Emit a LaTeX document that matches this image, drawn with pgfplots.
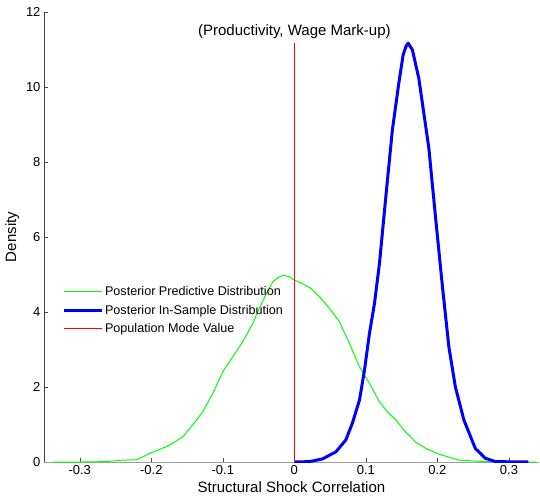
\documentclass[border=0pt]{standalone}
\usepackage{fontspec}
\setmainfont{Liberation Sans}
\usepackage{pgfplots}
\pgfplotsset{compat=1.18}
\usetikzlibrary{calc}
\definecolor{predgreen}{RGB}{0,255,0}
\definecolor{sampblue}{RGB}{0,0,255}
\definecolor{modered}{RGB}{255,0,0}

\begin{document}
\begin{tikzpicture}
\begin{axis}[name=ax,
  scale only axis, width=495bp, height=450bp,
  xmin=-0.35, xmax=0.342, ymin=0, ymax=12,
  axis x line*=bottom, axis y line*=left,
  axis line style={-},
  x axis line style={gray!75},
  y axis line style={black!75},
  tick align=inside, major tick length=4bp,
  tick style={black!70},
  xtick={-0.3,-0.2,-0.1,0,0.1,0.2,0.3},
  xticklabels={-0.3,-0.2,-0.1,0,0.1,0.2,0.3},
  ytick={0,2,4,6,8,10,12},
  /pgf/number format/assume math mode=true,
  tick label style={font=\fontsize{13bp}{15bp}\selectfont},
  label style={font=\fontsize{15bp}{18bp}\selectfont},
  xlabel={Structural Shock Correlation},
  ylabel={Density},
  legend style={draw=none, fill=none, at={(axis cs:-0.325,4.74)}, anchor=north west,
    font=\fontsize{12.6bp}{15bp}\selectfont, row sep=4bp, inner sep=0pt},
  legend cell align=left,
  legend image code/.code={\draw[#1] (0bp,0bp) -- (38bp,0bp);},
  every axis plot/.append style={line join=round},
]
\addplot[predgreen, line width=1bp] coordinates {
  (-0.338,0) (-0.300,0) (-0.263,0.01) (-0.240,0.05) (-0.221,0.06) (-0.216,0.10)
  (-0.202,0.23) (-0.179,0.41) (-0.170,0.50) (-0.156,0.67) (-0.142,0.99)
  (-0.128,1.34) (-0.114,1.83) (-0.100,2.41) (-0.086,2.81) (-0.072,3.21)
  (-0.058,3.70) (-0.049,4.10) (-0.039,4.50) (-0.030,4.81) (-0.021,4.94)
  (-0.014,4.98) (-0.006,4.93) (0.000,4.85) (0.012,4.75) (0.023,4.63)
  (0.035,4.41) (0.049,4.10) (0.063,3.74) (0.077,3.16) (0.091,2.54)
  (0.098,2.32) (0.109,1.96) (0.119,1.60) (0.132,1.30) (0.142,1.12)
  (0.156,0.79) (0.170,0.52) (0.184,0.36) (0.202,0.21) (0.230,0.05)
  (0.258,0.02) (0.300,0) (0.338,0)};
\addlegendentry{Posterior Predictive Distribution}
\addplot[sampblue, line width=3bp] coordinates {
  (0.000,0) (0.021,0.01) (0.039,0.08) (0.058,0.27) (0.072,0.59) (0.081,1.03)
  (0.091,1.65) (0.098,2.45) (0.105,3.43) (0.112,4.23) (0.119,5.30)
  (0.128,7.10) (0.137,8.85) (0.146,10.10) (0.152,10.85) (0.156,11.08)
  (0.159,11.17) (0.165,10.99) (0.174,10.23) (0.188,8.37) (0.198,6.40)
  (0.207,4.68) (0.216,3.07) (0.225,2.01) (0.237,1.12) (0.253,0.36)
  (0.267,0.10) (0.281,0.01) (0.327,0)};
\addlegendentry{Posterior In-Sample Distribution}
\addplot[modered, line width=1bp] coordinates {(0,0) (0,11.17)};
\addlegendentry{Population Mode Value}
\node[font=\fontsize{15bp}{18bp}\selectfont] at (axis cs:0,11.49) {(Productivity, Wage Mark-up)};
\end{axis}
\pgfresetboundingbox
\path[use as bounding box] ($(ax.south west)+(-44bp,-36bp)$) rectangle ($(ax.south west)+(496bp,462bp)$);
\end{tikzpicture}
\end{document}
